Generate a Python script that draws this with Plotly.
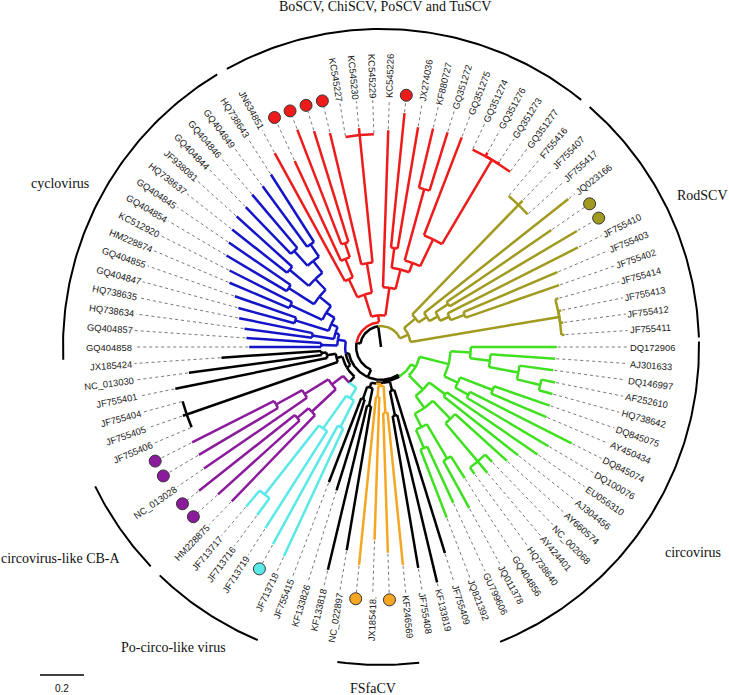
import math
import plotly.graph_objects as go

# ---------------- data: tree (Newick, branch lengths in substitutions/site) ----------------
GREEN = ("(((DQ172906:0.391,(AJ301633:0.295,(DQ146997:0.155,(AF252610:0.064,HQ738642:0.064):0.109):0.136):0.091):0.091,"
         "((DQ845075:0.268,AY450434:0.273):0.159,(DQ845074:0.518,DQ100076:0.432):0.068):0.068):0.136,"
         "((EU056310:0.5,AJ304456:0.432):0.091,((AY660574:0.318,(NC_002068:0.045,AY424401:0.068,HQ738640:0.036):0.227):0.114,"
         "((GQ404856:0.118,JQ011378:0.245):0.182,(GU799606:0.282,JQ821392:0.332):0.091):0.068):0.068):0.091)green:0.023")
BLACK_A = "(JF755409:0.777,(KF133819:0.782,JF755408:0.7):0.114)blackA:0.041"
ORANGE = "((KF246569:0.695,*o1:0.636):0.123,(JX185418.:0.65,*o2:0.768):0.05)orange:0.009"
BLACK_B = "((NC_022897:0.664,KF133818:0.768):0.082,(KF133826:0.432,JF755415:0.409):0.059)blackB:0.023"
CYAN = "((JF713718:0.641,*c1:0.614):0.136,(JF713719:0.523,(JF713716:0.095,JF713717:0.095):0.4):0.182)cyan:0.055"
PURPLE = "((HM228875:0.545,(*p1:0.5,*p2:0.555):0.068):0.15,(NC_013028:0.568,(*p3:0.418,*p4:0.418):0.136):0.127)purple:0.064"
BLACK_C = "((JF755406:0,JF755405:0.018,JF755404:0):0.727,(JF755401:0.705,(NC_013030:0.609,JX185424:0.455):0.023):0.041)blackC:0.027"
BLUE = ("((GQ404858:0.327,GQ404857:0.341):0.073,((HQ738634:0.309,HQ738635:0.341):0.1,((GQ404847:0.264,GQ404855:0.295):0.159,"
        "((HM228874:0.295,KC512920:0.318):0.159,((GQ404854:0.318,GQ404845:0.341):0.136,((HQ738637:0.318,JF938081:0.341):0.114,"
        "((GQ404844:0.295,GQ404846:0.318):0.091,(GQ404849:0.341,HQ738643:0.364):0.068):0.068):0.068):0.068):0.045):0.032):0.018)blue:0.036")
RED = ("(((JN634851:0.664,(*r1:0.5,(*r2:0.559,*r3:0.527):0.068):0.091):0.091,(*r4:0.614,(KC545227:0,KC545230:0.032,KC545229:0):0.582):0.136):0.105,"
       "(KC545226:0.714,((*r5:0.614,JX274036:0.559):0.091,((KF880727:0.277,GQ351272:0.277):0.336,"
       "(GQ351275:0.477,(GQ351274:0,GQ351276:0.018,GQ351273:0.009,GQ351277:0):0.445):0.136):0.045):0.091):0.127)red:0.032")
OLIVE = ("(((F755416:0,JF755407:0.027,JF755417:0):0.695,(JQ023166:0.836,((*v1:0.577,*v2:0.673):0.068,"
         "(JF755410:0.664,(JF755403:0.464,JF755402:0.45):0.068):0.045):0.045):0.045):0.068,"
         "(JF755414:0.014,JF755413:0.014,JF755412:0.014,JF755411:0.014):0.686)olive:0.041")
BACKBONE = ("(((({green},({blackA},({orange},{blackB}):0.005):0.005):0.009,"
            "((({cyan},{purple}):0.036,{blackC}):0.018,{blue}):0.014):0.036,{red}):0.018,{olive})root:0.095;")

CLADE_COLORS = {"green": "#3fe01f", "blackA": "#000000", "orange": "#f5a623", "blackB": "#000000",
                "cyan": "#5ae8e8", "purple": "#8c1a9c", "blackC": "#000000", "blue": "#1414c8",
                "red": "#ee1b1b", "olive": "#a09a1e"}

GROUP_NAMES = ["cyclovirus", "BoSCV, ChiSCV, PoSCV and TuSCV", "RodSCV", "circovirus",
               "FSfaCV", "Po-circo-like virus", "circovirus-like CB-A"]
GROUP_ARC_START = [177.7, 241.0, 311.0, -1.0, 83.1, 112.8, 136.4]
GROUP_ARC_END = [239.0, 309.0, 358.3, 68.0, 97.9, 134.1, 154.0]
SCALE_VALUE = 0.2

# ---------------- layout constants ----------------
W, H = 729, 695
CX, CY = 381.0, 347.0          # tree centre in pixels
PX = 220.0                     # pixels per substitution unit (scale bar 0.2 = 44 px)
LABEL_R = 249 / PX
DOT_R = 253 / PX
GROUP_R = 318 / PX
LABEL_FONT = 9.4
GROUP_LABEL_POS = [(60, 183), (385, 7), (702, 196), (693, 552), (373, 688), (173, 647), (60, 558)]


def parse_newick(s):
    pos = 0

    def node():
        nonlocal pos
        n = {"children": [], "name": "", "length": 0.0}
        if s[pos] == "(":
            pos += 1
            while True:
                n["children"].append(node())
                if s[pos] == ",":
                    pos += 1
                    continue
                pos += 1  # ')'
                break
        st = pos
        while pos < len(s) and s[pos] not in ":,();":
            pos += 1
        n["name"] = s[st:pos]
        if pos < len(s) and s[pos] == ":":
            pos += 1
            st = pos
            while pos < len(s) and s[pos] not in ",();":
                pos += 1
            n["length"] = float(s[st:pos])
        return n

    return node()


newick = BACKBONE.format(green=GREEN, blackA=BLACK_A, orange=ORANGE, blackB=BLACK_B, cyan=CYAN,
                         purple=PURPLE, blackC=BLACK_C, blue=BLUE, red=RED, olive=OLIVE)
root = parse_newick(newick)

leaves = []


def collect(n):
    if n["children"]:
        for c in n["children"]:
            collect(c)
    else:
        leaves.append(n)


collect(root)
NL = len(leaves)
for i, lf in enumerate(leaves):
    lf["theta"] = i * 360.0 / NL


def set_geom(n, r, col):
    n["r"] = r
    if n["name"] in CLADE_COLORS:
        col = CLADE_COLORS[n["name"]]
    n["color"] = col
    for c in n["children"]:
        set_geom(c, r + c["length"], col)
    if n["children"]:
        n["theta"] = (n["children"][0]["theta"] + n["children"][-1]["theta"]) / 2.0


set_geom(root, root["length"], "#000000")


def pol(r, th):
    a = math.radians(th)
    return r * math.cos(a), -r * math.sin(a)


segs = {}


def add_seg(col, pts):
    xs, ys = segs.setdefault(col, ([], []))
    for x, y in pts:
        xs.append(x)
        ys.append(y)
    xs.append(None)
    ys.append(None)


def arc_pts(r, a0, a1):
    n = max(2, int(abs(a1 - a0) / 0.8) + 2)
    return [pol(r, a0 + (a1 - a0) * k / (n - 1)) for k in range(n)]


# root stub
add_seg("#000000", [pol(0, root["theta"]), pol(root["r"], root["theta"])])


def draw(n):
    for c in n["children"]:
        add_seg(c["color"], [pol(n["r"], c["theta"]), pol(c["r"], c["theta"])])
        add_seg(c["color"], arc_pts(n["r"], c["theta"], n["theta"]))
        draw(c)


draw(root)

fig = go.Figure()

# dotted leaders
lx, ly = [], []
for lf in leaves:
    end = (DOT_R - 6 / PX) if lf["name"].startswith("*") else (LABEL_R - 2 / PX)
    p0 = pol(lf["r"] + 1 / PX, lf["theta"])
    p1 = pol(end, lf["theta"])
    lx += [p0[0], p1[0], None]
    ly += [p0[1], p1[1], None]
fig.add_trace(go.Scatter(x=lx, y=ly, mode="lines", line=dict(color="#555555", width=0.8, dash="dot"),
                         hoverinfo="skip"))

for col, (xs, ys) in segs.items():
    fig.add_trace(go.Scatter(x=xs, y=ys, mode="lines", line=dict(color=col, width=2.5),
                             hoverinfo="skip"))

# dots for unlabelled (study) sequences
dx, dy, dc = [], [], []
for lf in leaves:
    if lf["name"].startswith("*"):
        x, y = pol(DOT_R, lf["theta"])
        dx.append(x)
        dy.append(y)
        dc.append(lf["color"])
fig.add_trace(go.Scatter(x=dx, y=dy, mode="markers",
                         marker=dict(size=12, color=dc, line=dict(color="#333333", width=1)),
                         hoverinfo="skip"))

# group arcs
for a0, a1 in zip(GROUP_ARC_START, GROUP_ARC_END):
    pts = arc_pts(GROUP_R, a0, a1)
    fig.add_trace(go.Scatter(x=[p[0] for p in pts], y=[p[1] for p in pts], mode="lines",
                             line=dict(color="#000000", width=2), hoverinfo="skip"))

# character widths (Arial em units) for centring rotated labels
CW = {"0": .556, "1": .556, "2": .556, "3": .556, "4": .556, "5": .556, "6": .556, "7": .556, "8": .556,
      "9": .556, "A": .667, "B": .667, "C": .722, "D": .722, "E": .667, "F": .611, "G": .778, "H": .722,
      "J": .5, "K": .667, "M": .833, "N": .722, "Q": .778, "U": .722, "X": .667, "Y": .667, "_": .556,
      ".": .278}

annotations = []
for lf in leaves:
    name = lf["name"]
    if name.startswith("*"):
        continue
    th = lf["theta"]
    w = sum(CW.get(ch, .6) for ch in name) * LABEL_FONT
    x, y = pol(LABEL_R + (w / 2) / PX, th)
    if th >= 270:
        ta = th - 360
    elif th > 90:
        ta = th - 180
    else:
        ta = th
    annotations.append(dict(x=x, y=y, xref="x", yref="y", text=name, showarrow=False, textangle=ta,
                            xanchor="center", yanchor="middle", borderpad=0,
                            font=dict(family="Liberation Sans, Arial", size=LABEL_FONT, color="#1a1a1a")))

for name, (px, py) in zip(GROUP_NAMES, GROUP_LABEL_POS):
    annotations.append(dict(x=px / W, y=1 - py / H, xref="paper", yref="paper", text=name, showarrow=False,
                            xanchor="center", yanchor="middle", borderpad=0,
                            font=dict(family="Liberation Serif, Times New Roman", size=14, color="#111111")))

# scale bar
SB_X0 = (40 - CX) / PX
SB_Y = (CY - 675) / PX
fig.add_shape(type="line", x0=SB_X0, x1=SB_X0 + SCALE_VALUE, y0=SB_Y, y1=SB_Y,
              line=dict(color="#000000", width=1.5))
annotations.append(dict(x=SB_X0 + SCALE_VALUE / 2, y=(CY - 688) / PX, xref="x", yref="y",
                        text=str(SCALE_VALUE), showarrow=False, xanchor="center", yanchor="middle",
                        borderpad=0, font=dict(family="Liberation Sans, Arial", size=10, color="#111111")))

fig.update_layout(width=W, height=H, margin=dict(l=0, r=0, t=0, b=0), showlegend=False,
                  plot_bgcolor="white", paper_bgcolor="white", annotations=annotations)
fig.update_xaxes(visible=False, range=[-CX / PX, (W - CX) / PX])
fig.update_yaxes(visible=False, range=[(CY - H) / PX, CY / PX])

# remove the browser's default 8px body margin so the figure sits at the page origin
fig.write_html("out.html", config={"displayModeBar": False},
               post_script="document.body.style.margin='0px';document.body.style.overflow='hidden';")
